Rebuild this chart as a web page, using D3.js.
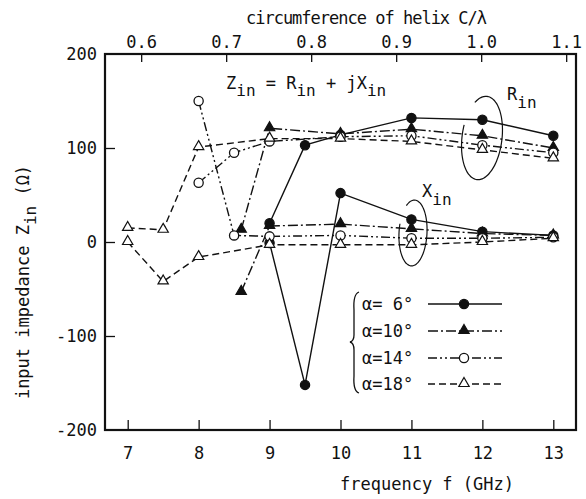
<!DOCTYPE html>
<html>
<head>
<meta charset="utf-8">
<script src="https://cdn.jsdelivr.net/npm/d3@7"></script>
<style>
	body { margin: 0; background: #fff; }
	svg text { font-family: "DejaVu Sans Mono", monospace; fill: #111; }
</style>
</head>
<body>
<svg id="chart" width="586" height="499"></svg>
<script>
// values (f in GHz, impedance in ohm)
var freq6 = [9, 9.5, 10, 11, 12, 13];
var rin6 = [20, 103, 114, 132, 130, 113];
var xin6 = [-1, -152, 52, 24, 11, 7];

var freq10 = [8.6, 9, 10, 11, 12, 13];
var rin10 = [13, 121, 115, 120, 113, 100];
var xin10 = [-53, 17, 19, 14, 9, 7];

var freq14 = [8, 8.5, 9, 10, 11, 12, 13];
var rin14 = [63, 95, 107, 112, 113, 103, 95];
var xin14 = [150, 7, 6, 7, 4, 4, 5];

var freq18 = [7, 7.5, 8, 9, 10, 11, 12, 13];
var rin18 = [15, 13, 101, 110, 110, 107, 98, 89];
var xin18 = [0, -42, -16, -3, -3, -3, 0, 4];

var freqTicks = [7, 8, 9, 10, 11, 12, 13];
var circTicks = [0.6, 0.7, 0.8, 0.9, 1.0, 1.1];
var zTicks = [-200, -100, 0, 100, 200];
var legendLabels = ["\u03b1= 6\u00b0", "\u03b1=10\u00b0", "\u03b1=14\u00b0", "\u03b1=18\u00b0"];

// C/lambda is proportional to f
var circPerGHz = 0.08345;

var svg = d3.select("#chart");
var box = {left: 105, right: 576, top: 54, bottom: 430};

var xScale = d3.scaleLinear().domain([6.68, 13.32]).range([box.left, box.right]);
var yScale = d3.scaleLinear().domain([-200, 200]).range([box.bottom, box.top]);
var topScale = d3.scaleLinear()
	.domain(xScale.domain().map(function(f){ return f * circPerGHz; }))
	.range([box.left, box.right]);

var series = [
	{freq: freq6, rin: rin6, xin: xin6, dash: null, marker: "dot"},
	{freq: freq10, rin: rin10, xin: xin10, dash: "10,3,2,3", marker: "tri"},
	{freq: freq14, rin: rin14, xin: xin14, dash: "9,3,2,3,2,3", marker: "ring"},
	{freq: freq18, rin: rin18, xin: xin18, dash: "7,4", marker: "opentri"}
];

// plain hyphen for negatives, like the typed original
function plain(d) { return String(d); }

// axes
function styleAxis(g, hideEnds) {
	g.select(".domain").remove();
	g.selectAll("line").attr("stroke", "#111").attr("stroke-width", 1.3);
	g.selectAll("text").attr("font-size", 17)
		.style("font-family", "DejaVu Sans Mono, monospace").attr("fill", "#111");
	if (hideEnds) {
		g.selectAll(".tick line").filter(function(d){ return d === 200 || d === -200; }).remove();
	}
}

svg.append("g")
	.attr("transform", "translate(0," + box.bottom + ")")
	.call(d3.axisBottom(xScale).tickValues(freqTicks).tickSize(-10).tickPadding(17)
		.tickFormat(plain))
	.call(styleAxis);

svg.append("g")
	.attr("transform", "translate(0," + box.top + ")")
	.call(d3.axisTop(topScale).tickValues(circTicks).tickSize(-8).tickPadding(6)
		.tickFormat(d3.format(".1f")))
	.call(styleAxis);

svg.append("g")
	.attr("transform", "translate(" + box.left + ",0)")
	.call(d3.axisLeft(yScale).tickValues(zTicks).tickSize(-10).tickPadding(8)
		.tickFormat(plain))
	.call(function(g){ styleAxis(g, true); });

svg.append("rect")
	.attr("x", box.left).attr("y", box.top)
	.attr("width", box.right - box.left).attr("height", box.bottom - box.top)
	.attr("fill", "none").attr("stroke", "#111").attr("stroke-width", 2.2);

// axis titles
svg.append("text")
	.attr("x", 366).attr("y", 24).attr("text-anchor", "middle")
	.attr("font-size", 17).attr("letter-spacing", -1)
	.text("circumference of helix C/\u03bb");

svg.append("text")
	.attr("x", 427).attr("y", 490).attr("text-anchor", "middle")
	.attr("font-size", 17)
	.text("frequency f (GHz)");

var yTitle = svg.append("text")
	.attr("transform", "translate(29,282) rotate(-90)")
	.attr("text-anchor", "middle").attr("font-size", 17);
yTitle.append("tspan").text("input impedance Z");
yTitle.append("tspan").attr("dy", 7).attr("font-size", 16).text("in");
yTitle.append("tspan").attr("dy", -7).text(" (\u03a9)");

// curves
var line = d3.line()
	.x(function(d){ return xScale(d[0]); })
	.y(function(d){ return yScale(d[1]); });

var tri = d3.symbol().type(d3.symbolTriangle).size(46);

function drawMarker(g, kind, px, py) {
	if (kind === "dot" || kind === "ring") {
		g.append("circle").attr("cx", px).attr("cy", py).attr("r", 4.6)
			.attr("fill", kind === "dot" ? "#111" : "#fff")
			.attr("stroke", "#111").attr("stroke-width", 1.3);
	} else {
		g.append("path").attr("d", tri())
			.attr("transform", "translate(" + px + "," + (py - 0.5) + ")")
			.attr("fill", kind === "tri" ? "#111" : "#fff")
			.attr("stroke", "#111").attr("stroke-width", 1.2);
	}
}

var curves = svg.append("g");
var markers = svg.append("g");

series.forEach(function(s){
	["rin", "xin"].forEach(function(key){
		var pts = s.freq.map(function(f, i){ return [f, s[key][i]]; });
		curves.append("path")
			.datum(pts)
			.attr("d", line)
			.attr("fill", "none")
			.attr("stroke", "#111")
			.attr("stroke-width", 1.4)
			.attr("stroke-dasharray", s.dash);
		pts.forEach(function(p){
			drawMarker(markers, s.marker, xScale(p[0]), yScale(p[1]));
		});
	});
});

// annotation: Zin = Rin + jXin
var eq = svg.append("text").attr("x", 226).attr("y", 89).attr("font-size", 17)
	.attr("xml:space", "preserve");
eq.append("tspan").text("Z");
eq.append("tspan").attr("dy", 7).attr("font-size", 16).text("in");
eq.append("tspan").attr("dy", -7).text(" = R");
eq.append("tspan").attr("dy", 7).attr("font-size", 16).text("in");
eq.append("tspan").attr("dy", -7).text(" + jX");
eq.append("tspan").attr("dy", 7).attr("font-size", 16).text("in");

function subLabel(px, py, main) {
	var t = svg.append("text").attr("x", px).attr("y", py).attr("font-size", 17);
	t.append("tspan").text(main);
	t.append("tspan").attr("dy", 8).attr("font-size", 16).text("in");
}
subLabel(507, 100, "R");
subLabel(422, 197, "X");

// open loops around the R and X groups
function loop(cx, cy, rx, ry, tilt) {
	var pts = d3.range(235, 556, 5).map(function(a){
		var t = a * Math.PI / 180;
		return [rx * Math.cos(t), ry * Math.sin(t)];
	});
	svg.append("path")
		.attr("d", d3.line().curve(d3.curveBasis)(pts))
		.attr("transform", "translate(" + cx + "," + cy + ") rotate(" + tilt + ")")
		.attr("fill", "none").attr("stroke", "#111").attr("stroke-width", 1.2);
}
loop(482, 138, 20, 42, 7);
loop(413, 233, 14, 33, 3);

// legend
var legend = svg.append("g");
legend.append("path")
	.attr("d", "M359,292 Q353,294 354,310 L354,335 Q354,341 350,342 Q354,343 354,350 L354,376 Q353,391 359,393")
	.attr("fill", "none").attr("stroke", "#111").attr("stroke-width", 1.3);

var legendBase = [310, 337, 364, 390];
series.forEach(function(s, i){
	var ly = legendBase[i] - 6;
	legend.append("text")
		.attr("x", 362).attr("y", legendBase[i]).attr("font-size", 17)
		.attr("xml:space", "preserve")
		.text(legendLabels[i]);
	legend.append("line")
		.attr("x1", 428).attr("x2", 502).attr("y1", ly).attr("y2", ly)
		.attr("stroke", "#111").attr("stroke-width", 1.4)
		.attr("stroke-dasharray", s.dash);
	drawMarker(legend, s.marker, 464, ly);
});
</script>
</body>
</html>
